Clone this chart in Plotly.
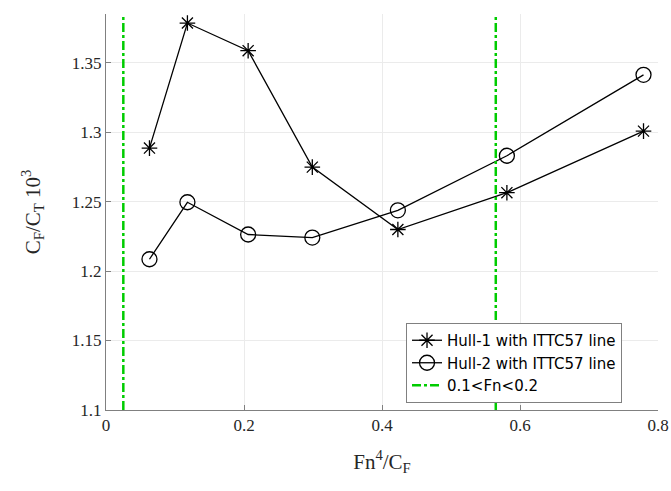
import plotly.graph_objects as go

# Data
hull1_x = [0.063, 0.118, 0.206, 0.299, 0.423, 0.581, 0.779]
hull1_y = [1.2885, 1.3785, 1.3586, 1.2748, 1.2299, 1.2564, 1.3007]
hull2_x = [0.063, 0.118, 0.206, 0.299, 0.423, 0.581, 0.779]
hull2_y = [1.2085, 1.2495, 1.2263, 1.2241, 1.2437, 1.2830, 1.3412]
fn_limit_x = [0.0251, 0.5649]

x_range = [0, 0.8]
y_range = [1.1, 1.385]
x_ticks = [0, 0.2, 0.4, 0.6, 0.8]
x_ticktext = ["0", "0.2", "0.4", "0.6", "0.8"]
y_ticks = [1.1, 1.15, 1.2, 1.25, 1.3, 1.35]
y_ticktext = ["1.1", "1.15", "1.2", "1.25", "1.3", "1.35"]

fig = go.Figure()

fig.add_trace(go.Scatter(
    x=hull1_x, y=hull1_y, mode="lines+markers", name="Hull-1 with ITTC57 line",
    line=dict(color="black", width=1.3),
    marker=dict(symbol="asterisk-open", size=13, color="black", line=dict(color="black", width=1.3)),
))
fig.add_trace(go.Scatter(
    x=hull2_x, y=hull2_y, mode="lines+markers", name="Hull-2 with ITTC57 line",
    line=dict(color="black", width=1.3),
    marker=dict(symbol="circle-open", size=15, color="black", line=dict(color="black", width=1.3)),
))

vx, vy = [], []
for xv in fn_limit_x:
    vx += [xv, xv, None]
    vy += [y_range[0], y_range[1], None]
fig.add_trace(go.Scatter(
    x=vx, y=vy, mode="lines", name="0.1<Fn<0.2",
    line=dict(color="#00cc00", width=2.5, dash="dashdot"),
))

axis_common = dict(
    showgrid=True, gridcolor="#ebebeb", gridwidth=1,
    showline=True, linecolor="#808080", linewidth=1,
    ticks="inside", ticklen=5, tickcolor="#808080",
    tickfont=dict(family="Liberation Serif", size=17, color="#262626"),
    zeroline=False, mirror=False, automargin=False,
    ticklabeloverflow="allow",
)

fig.update_xaxes(range=x_range, tickvals=x_ticks, ticktext=x_ticktext,
                 title=dict(text="Fn<sup>4</sup>/C<sub>F</sub>",
                            font=dict(family="Liberation Serif", size=21, color="#262626"),
                            standoff=19),
                 **axis_common)
fig.update_yaxes(range=y_range, tickvals=y_ticks, ticktext=y_ticktext,
                 title=dict(text="C<sub>F</sub>/C<sub>T</sub> 10<sup>3</sup>",
                            font=dict(family="Liberation Serif", size=21, color="#262626"),
                            standoff=25),
                 **axis_common)

fig.update_layout(
    width=671, height=491,
    margin=dict(l=106, r=13, t=14, b=81),
    paper_bgcolor="white", plot_bgcolor="white",
    showlegend=True,
    legend=dict(
        x=0.5435, y=0.2197, xanchor="left", yanchor="top",
        bgcolor="white", bordercolor="#808080", borderwidth=1,
        font=dict(family="DejaVu Sans", size=15, color="black"),
        tracegroupgap=0, itemwidth=30,
    ),
)

# remove the default page margin so the figure fills the window exactly
fig.write_html("out.html",
               config={"displayModeBar": False},
               post_script="document.body.style.margin='0';document.body.style.overflow='hidden';")
